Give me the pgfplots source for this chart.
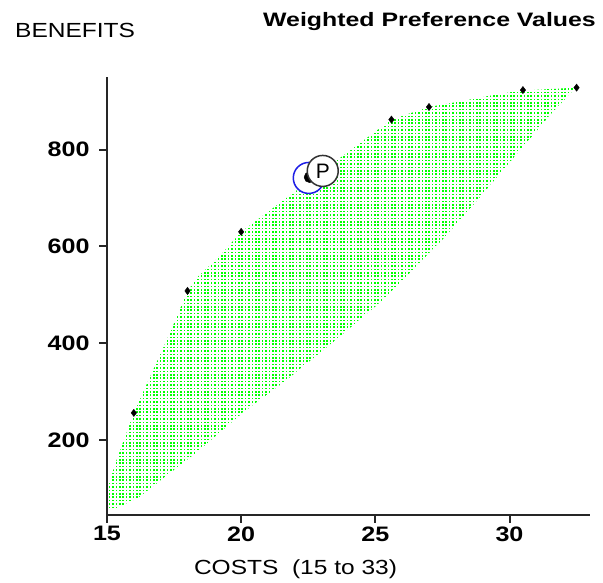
\documentclass[border=0pt]{standalone}
\usepackage{pgfplots}
\pgfplotsset{compat=1.18}
\usepackage{fontspec}
\setmainfont{Liberation Sans}
\newfontfamily\wfont[FakeStretch=1.2]{Liberation Sans}
\newfontfamily\tfont[FakeStretch=1.28]{Liberation Sans}
\usetikzlibrary{patterns}
\definecolor{lime}{RGB}{0,255,0}
\definecolor{pblue}{RGB}{30,30,230}
\pgfdeclarepatternformonly{gdots}{\pgfqpoint{-1pt}{-1pt}}{\pgfqpoint{4pt}{4pt}}{\pgfqpoint{3.4bp}{3.4bp}}{%
  \pgfpathrectangle{\pgfqpoint{0pt}{0pt}}{\pgfqpoint{1.6bp}{1.6bp}}\pgfusepath{fill}}
\begin{document}
\begin{tikzpicture}
\useasboundingbox (0,0) rectangle (603bp,583bp);
\begin{axis}[
  at={(107bp,68bp)}, anchor=south west,
  scale only axis, width=483bp, height=438bp,
  xmin=15, xmax=33, ymin=45, ymax=950,
  axis x line=bottom, axis y line=left,
  axis line style={-, line width=2bp, black!85},
  xtick={15,20,25,30}, ytick={200,400,600,800},
  tick align=outside, major tick length=8bp,
  tick style={line width=2bp, black!85},
  /pgf/number format/assume math mode=true,
  ticklabel style={font=\fontsize{21}{21}\wfont\bfseries},
  yticklabel style={xshift=-6bp},
  clip=false,
]
\addplot[draw=none, pattern=gdots, pattern color=lime] coordinates {
 (15,58) (15,95) (15.3,150) (15.67,206) (16,256) (16.6,330) (17.4,428)
 (18,508) (18.4,538) (19.2,580) (20,630) (25.6,862) (27,888) (28.2,900)
 (29.7,916) (30.5,922) (32.5,928)
 (32.3,918) (31.6,877) (30.35,796) (28.5,676) (27.5,614) (25.3,490)
 (23.4,401) (21.6,320) (20.05,256) (18.35,175) (16.2,82) (15.4,60)
} -- cycle;
\addplot[only marks, mark=diamond*, mark size=3.6bp, black] coordinates {
 (16,256) (18,508) (20,630) (25.6,862) (27,888) (30.5,923) (32.5,928)
};
\addplot[only marks, mark=*, mark size=15.5bp, mark options={draw=pblue, fill=white, line width=1.5bp}] coordinates {(22.52,741.4)};
\addplot[only marks, mark=*, mark size=5.5bp, black] coordinates {(22.55,743)};
\addplot[only marks, mark=*, mark size=15.5bp, mark options={draw=black!80, fill=white, line width=1.5bp}] coordinates {(23.04,755.9)};
\coordinate (pc) at (axis cs:23.04,755.9);
\end{axis}
\node at (pc) {\fontsize{21}{21}\selectfont P};
\node[anchor=base west, inner sep=0pt] at (15bp,545bp) {\fontsize{20.5}{20.5}\wfont BENEFITS};
\node[anchor=base west, inner sep=0pt] at (263bp,556bp) {\fontsize{19.5}{19.5}\tfont\bfseries Weighted Preference Values};
\node[anchor=base, inner sep=0pt] at (295.5bp,9bp) {\fontsize{20.5}{20.5}\wfont COSTS\ \ (15 to 33)};
\end{tikzpicture}
\end{document}
